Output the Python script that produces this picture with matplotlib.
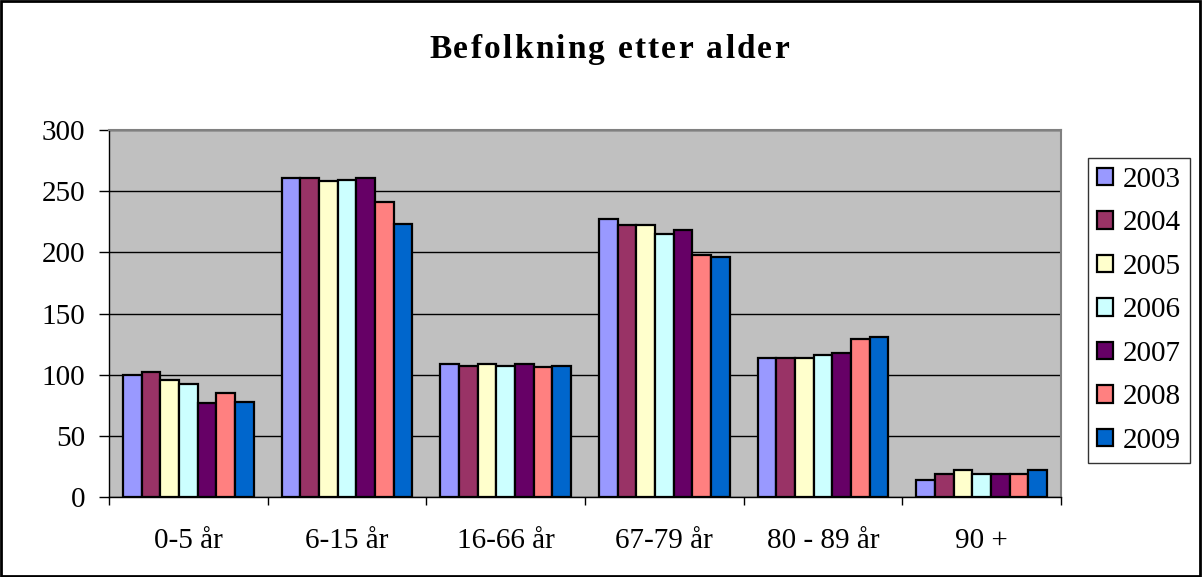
import matplotlib
matplotlib.use("Agg")
import matplotlib.pyplot as plt
import numpy as np
from matplotlib.patches import Rectangle

categories = ["0-5 år", "6-15 år", "16-66 år", "67-79 år", "80 - 89 år", "90 +"]
years = ["2003", "2004", "2005", "2006", "2007", "2008", "2009"]
values = {
    "2003": [100, 261, 109, 227, 114, 14],
    "2004": [102, 261, 107, 222, 114, 19],
    "2005": [96, 258, 109, 222, 114, 22],
    "2006": [92, 259, 107, 215, 116, 19],
    "2007": [77, 261, 109, 218, 118, 19],
    "2008": [85, 241, 106, 198, 129, 19],
    "2009": [78, 223, 107, 196, 131, 22],
}
colors = ["#9999FF", "#993366", "#FFFFCC", "#CCFFFF", "#660066", "#FF8080", "#0066CC"]
title = "Befolkning etter alder"

plt.rcParams['font.family'] = ['Liberation Serif', 'DejaVu Serif']

W, H = 1202, 577
fig = plt.figure(figsize=(W / 100, H / 100), dpi=100)
ax = fig.add_axes([109 / W, 1 - 497 / H, (1061 - 109) / W, (497 - 130) / H])
ax.set_facecolor("#C0C0C0")

x = np.arange(len(categories))
w = 1 / 8.5
for i, y in enumerate(years):
    ax.bar(x - 3 * w + i * w, values[y], width=w, color=colors[i],
           edgecolor="black", linewidth=1.6, label=y, zorder=3)

ax.set_xlim(-0.5, len(categories) - 0.5)
ax.set_ylim(0, 300)
ax.set_yticks(range(0, 301, 50))
ax.yaxis.grid(True, color="black", linewidth=1, zorder=1)
ax.set_axisbelow(True)
ax.set_xticks(x)
ax.set_xticklabels(categories)
ax.set_xticks(np.arange(-0.5, len(categories), 1), minor=True)
ax.tick_params(axis="x", which="major", length=0, pad=22, labelsize=21)
ax.tick_params(axis="x", which="minor", length=6, width=1, direction="out")
ax.tick_params(axis="y", length=7, width=1, direction="out", labelsize=21, pad=10)

for s in ["top", "right"]:
    ax.spines[s].set_color("#808080")
    ax.spines[s].set_linewidth(1.5)
for s in ["left", "bottom"]:
    ax.spines[s].set_color("black")
    ax.spines[s].set_linewidth(1)

# title with letter spacing, one character at a time
renderer = fig.canvas.get_renderer()
tsize = 24
widths = []
for ch in title:
    t = fig.text(0, 0, ch if ch != " " else "n", fontsize=tsize, fontweight="bold")
    bb = t.get_window_extent(renderer)
    widths.append(bb.width * (0.5 if ch == " " else 1))
    t.remove()
target = 360
spacing = (target - sum(widths)) / (len(title) - 1)
xpos = W / 2 - target / 2 + 8
for ch, cw in zip(title, widths):
    if ch != " ":
        fig.text(xpos / W, 1 - 58 / H, ch, fontsize=tsize, fontweight="bold",
                 ha="left", va="baseline")
    xpos += cw + spacing

leg = fig.legend(loc="upper left", bbox_to_anchor=(1088 / W, 1 - 158 / H),
                 fontsize=21, frameon=True, fancybox=False, edgecolor="black",
                 handlelength=0.55, handleheight=0.55, handletextpad=0.35,
                 labelspacing=0.6, borderpad=0.3, borderaxespad=0)
leg.get_frame().set_linewidth(1)

fig.patches.append(Rectangle((0.001, 0.002), 0.997, 0.996, transform=fig.transFigure,
                             fill=False, edgecolor="black", linewidth=2))

fig.savefig("out.png", dpi=100)
